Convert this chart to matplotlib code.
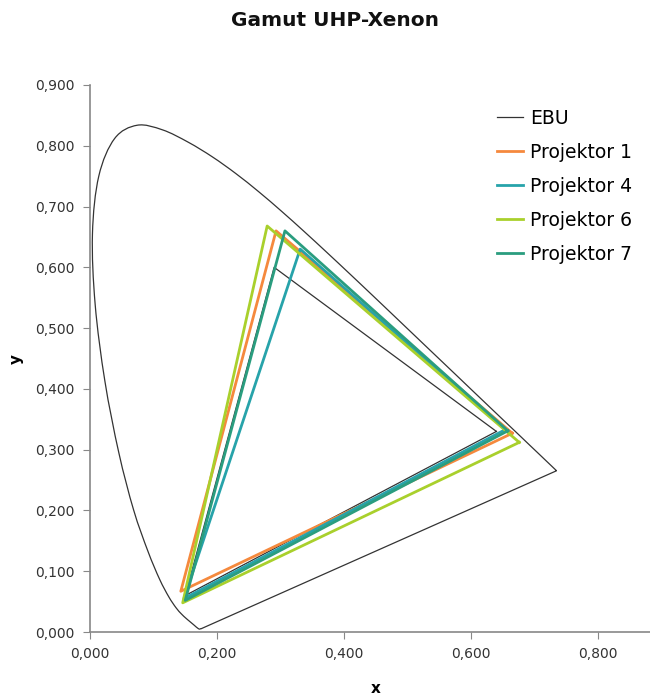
import matplotlib
matplotlib.use("Agg")
import matplotlib.pyplot as plt
from matplotlib.path import Path
from matplotlib.patches import PathPatch
from matplotlib.ticker import FuncFormatter


# CIE 1931 spectral locus, 380..700 nm in 5 nm steps
locus_x = [0.17411, 0.17401, 0.17380, 0.17356, 0.17334, 0.17302, 0.17258, 0.17209,
           0.17141, 0.17030, 0.16888, 0.16690, 0.16441, 0.16110, 0.15664, 0.15099,
           0.14396, 0.13550, 0.12412, 0.10959, 0.09129, 0.06871, 0.04539, 0.02346,
           0.00817, 0.00386, 0.01387, 0.03885, 0.07430, 0.11416, 0.15472, 0.19288,
           0.22962, 0.26578, 0.30160, 0.33736, 0.37310, 0.40874, 0.44406, 0.47877,
           0.51249, 0.54479, 0.57515, 0.60293, 0.62704, 0.64823, 0.66576, 0.68008,
           0.69150, 0.70061, 0.70792, 0.71403, 0.71903, 0.72303, 0.72599, 0.72827,
           0.72997, 0.73109, 0.73199, 0.73272, 0.73342, 0.73405, 0.73439, 0.73459,
           0.73469]
locus_y = [0.00496, 0.00498, 0.00492, 0.00492, 0.00480, 0.00478, 0.00480, 0.00483,
           0.00510, 0.00579, 0.00690, 0.00855, 0.01086, 0.01379, 0.01771, 0.02274,
           0.02970, 0.03988, 0.05780, 0.08684, 0.13270, 0.20072, 0.29498, 0.41270,
           0.53842, 0.65482, 0.75019, 0.81202, 0.83380, 0.82621, 0.80586, 0.78163,
           0.75433, 0.72432, 0.69231, 0.65885, 0.62445, 0.58961, 0.55471, 0.52020,
           0.48659, 0.45443, 0.42423, 0.39650, 0.37249, 0.35139, 0.33401, 0.31975,
           0.30834, 0.29930, 0.29203, 0.28593, 0.28093, 0.27695, 0.27401, 0.27173,
           0.27003, 0.26891, 0.26801, 0.26728, 0.26658, 0.26595, 0.26561, 0.26541,
           0.26531]

# gamut triangles: red, green, blue primaries (x, y)
ebu_x = [0.640, 0.290, 0.150]
ebu_y = [0.330, 0.600, 0.060]

proj1_x = [0.665, 0.293, 0.143]
proj1_y = [0.327, 0.660, 0.067]

proj4_x = [0.654, 0.331, 0.148]
proj4_y = [0.333, 0.630, 0.055]

proj6_x = [0.676, 0.279, 0.146]
proj6_y = [0.312, 0.668, 0.048]

proj7_x = [0.658, 0.307, 0.150]
proj7_y = [0.331, 0.660, 0.052]

projectors = [
    ("Projektor 1", proj1_x, proj1_y, "#f5893d"),
    ("Projektor 4", proj4_x, proj4_y, "#27a3aa"),
    ("Projektor 6", proj6_x, proj6_y, "#a9d02c"),
    ("Projektor 7", proj7_x, proj7_y, "#2a9d7f"),
]


def closed(vals):
    return list(vals) + [vals[0]]


def smooth_path(xs, ys):
    # Excel-style smoothed line: cubic Bezier through every data point,
    # closed back to the start with a straight segment (purple line)
    pts = list(zip(xs, ys))
    n = len(pts)
    verts = [pts[0]]
    codes = [Path.MOVETO]
    for i in range(n - 1):
        p0 = pts[max(i - 1, 0)]
        p1 = pts[i]
        p2 = pts[i + 1]
        p3 = pts[min(i + 2, n - 1)]
        c1 = (p1[0] + (p2[0] - p0[0]) / 6, p1[1] + (p2[1] - p0[1]) / 6)
        c2 = (p2[0] - (p3[0] - p1[0]) / 6, p2[1] - (p3[1] - p1[1]) / 6)
        verts += [c1, c2, p2]
        codes += [Path.CURVE4] * 3
    verts.append(pts[0])
    codes.append(Path.LINETO)
    return Path(verts, codes)


fig = plt.figure(figsize=(6.5, 6.96), dpi=100)
ax = fig.add_axes([90 / 650, 64 / 696, 571.5 / 650, 547 / 696])

ax.add_patch(PathPatch(smooth_path(locus_x, locus_y), facecolor="none",
                       edgecolor="#333333", lw=0.9, zorder=2))
ax.plot(closed(ebu_x), closed(ebu_y), color="#333333", lw=0.9, label="EBU", zorder=2)
for name, xs, ys, col in projectors:
    ax.plot(closed(xs), closed(ys), color=col, lw=2, label=name, zorder=3)

ax.set_xlim(0, 0.9)
ax.set_ylim(0, 0.9)
ax.set_xticks([0, 0.2, 0.4, 0.6, 0.8])
ax.set_yticks([i / 10 for i in range(10)])
fmt = FuncFormatter(lambda v, p: f"{v:.3f}".replace(".", ","))
ax.xaxis.set_major_formatter(fmt)
ax.yaxis.set_major_formatter(fmt)
ax.tick_params(direction="out", length=5, color="#888888", labelsize=10,
               labelcolor="#333333", pad=6)

for side in ("top", "right"):
    ax.spines[side].set_visible(False)
for side in ("left", "bottom"):
    ax.spines[side].set_color("#888888")
    ax.spines[side].set_linewidth(1.2)

ax.set_xlabel("x", fontsize=11, fontweight="bold", labelpad=14)
ax.set_ylabel("y", fontsize=11, fontweight="bold", labelpad=8)

fig.text(335 / 650, 1 - 21 / 696, "Gamut UHP-Xenon", ha="center", va="center",
         fontsize=14.5, fontweight="bold", color="#111111")

fig.legend(loc="upper left", bbox_to_anchor=(489 / 650, 1 - 101 / 696),
           frameon=False, fontsize=13.5, handlelength=1.4, handletextpad=0.4,
           labelspacing=0.8, borderaxespad=0)

fig.savefig("out.png", dpi=100, facecolor="white")
